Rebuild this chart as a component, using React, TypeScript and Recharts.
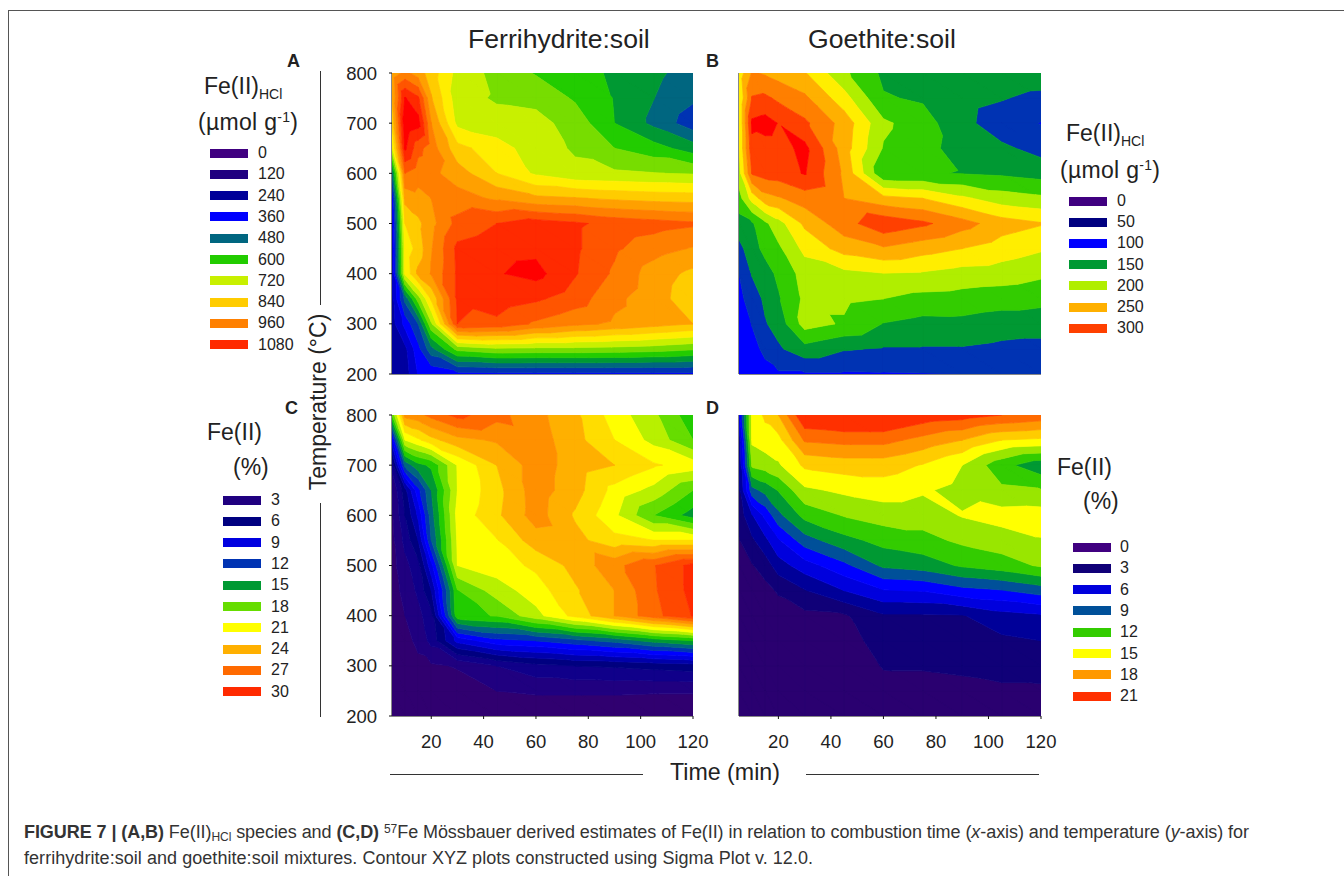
import React from 'react';
import { ScatterChart, Scatter, XAxis, YAxis } from 'recharts';

const times = [5, 10, 15, 20, 30, 45, 60, 75, 90, 105, 120];
const temps = [800, 750, 700, 650, 600, 550, 500, 450, 400, 350, 300, 250, 200];
const timeTicks = [20, 40, 60, 80, 100, 120];
const tempTicks = [200, 300, 400, 500, 600, 700, 800];

const ferrihydriteHcl = [
  [920, 980, 930, 870, 760, 700, 655, 625, 590, 555, 510],
  [900, 1145, 1090, 905, 745, 712, 703, 652, 597, 541, 490],
  [850, 1190, 1165, 960, 765, 745, 740, 695, 600, 525, 445],
  [760, 1150, 1040, 990, 860, 805, 750, 712, 660, 625, 570],
  [500, 1020, 985, 975, 930, 840, 770, 735, 730, 722, 715],
  [360, 920, 940, 960, 985, 950, 915, 905, 890, 880, 875],
  [320, 840, 885, 940, 1040, 1080, 1110, 1090, 1060, 1045, 1030],
  [305, 800, 865, 955, 1095, 1120, 1125, 1090, 1030, 985, 955],
  [295, 790, 915, 965, 1090, 1135, 1160, 1085, 1010, 930, 885],
  [285, 500, 690, 850, 1090, 1115, 1090, 1050, 975, 925, 865],
  [275, 380, 480, 710, 1080, 1065, 1010, 975, 950, 925, 900],
  [270, 285, 400, 520, 680, 710, 705, 705, 700, 690, 670],
  [265, 270, 365, 370, 400, 405, 405, 405, 405, 405, 405],
];
const goethiteHcl = [
  [235, 278, 272, 265, 252, 205, 170, 165, 168, 170, 168],
  [225, 302, 305, 295, 280, 235, 177, 172, 160, 152, 142],
  [225, 330, 335, 324, 305, 265, 205, 185, 158, 135, 124],
  [225, 318, 315, 315, 332, 262, 198, 183, 165, 155, 141],
  [215, 302, 310, 312, 327, 270, 178, 177, 174, 171, 165],
  [190, 235, 265, 272, 287, 275, 258, 250, 230, 212, 205],
  [165, 172, 195, 215, 255, 290, 318, 305, 285, 262, 252],
  [142, 165, 182, 195, 232, 260, 272, 260, 250, 238, 228],
  [125, 152, 165, 180, 210, 218, 224, 222, 215, 213, 205],
  [118, 137, 155, 172, 205, 205, 200, 192, 190, 186, 182],
  [112, 126, 148, 160, 210, 197, 174, 167, 168, 162, 162],
  [108, 118, 130, 146, 166, 152, 148, 148, 148, 144, 141],
  [100, 105, 118, 122, 122, 122, 123, 124, 125, 127, 130],
];
const ferrihydritePct = [
  [18, 26, 26.5, 27.5, 29, 27.5, 26, 24.3, 21.8, 19.8, 17],
  [10, 21, 22.2, 23.5, 25, 25.7, 26.3, 24.5, 22.5, 20.5, 18],
  [5, 14, 16, 16.8, 21.1, 24, 26.3, 24.8, 24, 22.7, 21.8],
  [3, 7, 11.5, 15, 21, 23.5, 26.3, 24.6, 22, 20.5, 18],
  [2.8, 6, 9.3, 14.3, 21.5, 23.7, 26.2, 23.8, 21.3, 18, 15.8],
  [2.6, 5, 7.5, 13.5, 21.2, 22.4, 24.8, 24.5, 23, 22.5, 22.5],
  [2.5, 4, 5.5, 10, 21, 21.8, 22.8, 24.5, 26.5, 28.4, 30.5],
  [2.3, 3.5, 4.8, 7.5, 17.9, 20.2, 21.8, 23.8, 25.5, 28.3, 30.5],
  [2, 3, 4, 5.5, 17.5, 18.1, 20.5, 23, 25.5, 28, 30.1],
  [1.8, 2.6, 3.3, 5, 9.5, 11.5, 12, 13, 14, 15.5, 16.5],
  [1.5, 2.5, 2.7, 2.8, 3.1, 4.5, 5.5, 6, 6.2, 6.5, 6.8],
  [1, 1.5, 1.8, 2, 2.4, 3, 3.3, 3.3, 3.3, 3.2, 3.2],
  [0.5, 1, 1, 1, 1.2, 1.5, 1.5, 1.5, 1.5, 1.5, 1.5],
];
const goethitePct = [
  [7, 15.5, 16.8, 18, 22.5, 23, 23, 22, 21.7, 21, 20.5],
  [5, 15.3, 15.8, 16, 19.7, 20, 20, 19, 18, 16.5, 16.2],
  [4.6, 13.8, 14.2, 14.8, 16.8, 17.2, 17.2, 16.4, 15, 12.5, 11],
  [4.2, 10, 11, 12.1, 14.7, 15.3, 15.7, 15.2, 14.5, 13.8, 13.6],
  [3.6, 5.9, 7.9, 10.1, 12.5, 13.6, 14.2, 14.2, 15.1, 15.6, 15.7],
  [2.9, 4.2, 5.6, 7.3, 9.8, 11.5, 12.5, 13, 13.8, 14.3, 14.9],
  [2.4, 2.9, 3.7, 5.3, 6.8, 8.6, 10.8, 11.2, 12.2, 12.8, 13.7],
  [2, 2.2, 2.5, 3.2, 4.4, 6, 7.4, 7.6, 8.5, 8.9, 9.7],
  [1.7, 1.7, 1.9, 2.2, 2.6, 2.8, 4.3, 4.3, 4.4, 5.4, 5.8],
  [1.4, 1.3, 1.5, 1.8, 2.2, 2.4, 3.6, 3.7, 3.8, 4.2, 4.5],
  [1, 1, 1.2, 1.4, 1.8, 2, 3.1, 3.1, 3.2, 3.4, 3.5],
  [0.7, 0.8, 0.9, 1, 1.2, 1.5, 2.5, 2.6, 2.7, 2.8, 2.8],
  [0.4, 0.5, 0.6, 0.7, 0.8, 1, 2, 2, 2, 2, 2],
];

const coloursA = ['#400080', '#2c0080', '#200080', '#100090', '#00009f', '#0000cc', '#0000ff', '#0033b3', '#006680', '#009933', '#22cc00', '#77dd00', '#c8f000', '#ffee00', '#ffcc00', '#ffa000', '#ff7f00', '#ff5500', '#ff2a00', '#ff0000'];
const coloursB = ['#400080', '#200080', '#000080', '#000099', '#0000ff', '#0033b3', '#009933', '#33cc00', '#b0ee00', '#ffee00', '#ffb000', '#ff7f00', '#ff4000', '#ff0000'];
const coloursC = ['#300070', '#300070', '#200080', '#10008a', '#000080', '#0000aa', '#0000e0', '#0000ff', '#0033b3', '#006680', '#009933', '#22cc00', '#66dd00', '#b8f000', '#ffff00', '#ffdd00', '#ffb000', '#ff9000', '#ff6a00', '#ff4800', '#ff2a00'];
const coloursD = ['#2a0070', '#2a0070', '#100078', '#000099', '#0000dd', '#0000ff', '#005099', '#009933', '#33cc00', '#99e600', '#ffff00', '#ffcc00', '#ff9900', '#ff6a00', '#ff3000'];

const legendA = [['0', '#400080'], ['120', '#200080'], ['240', '#000099'], ['360', '#0000ff'], ['480', '#006680'], ['600', '#22cc00'], ['720', '#c8f000'], ['840', '#ffcc00'], ['960', '#ff8000'], ['1080', '#ff2a00']];
const legendB = [['0', '#400080'], ['50', '#000080'], ['100', '#0000ff'], ['150', '#009933'], ['200', '#b0ee00'], ['250', '#ffb000'], ['300', '#ff4000']];
const legendC = [['3', '#200080'], ['6', '#000080'], ['9', '#0000e0'], ['12', '#0033b3'], ['15', '#009933'], ['18', '#66dd00'], ['21', '#ffff00'], ['24', '#ffb000'], ['27', '#ff6a00'], ['30', '#ff2a00']];
const legendD = [['0', '#400080'], ['3', '#100078'], ['6', '#0000dd'], ['9', '#005099'], ['12', '#33cc00'], ['15', '#ffff00'], ['18', '#ff9900'], ['21', '#ff3000']];

const FONT = '"Liberation Sans", Arial, sans-serif';

type V = { t: number; T: number; z: number };

function clip(poly: V[], level: number, keepAbove: boolean): V[] {
  const out: V[] = [];
  const inside = (v: V) => (keepAbove ? v.z >= level : v.z <= level);
  for (let i = 0; i < poly.length; i++) {
    const a = poly[i];
    const b = poly[(i + 1) % poly.length];
    if (inside(a)) out.push(a);
    if (inside(a) !== inside(b)) {
      const f = (level - a.z) / (b.z - a.z);
      out.push({ t: a.t + f * (b.t - a.t), T: a.T + f * (b.T - a.T), z: level });
    }
  }
  return out;
}

function bandPolygons(grid: number[][], lo: number, hi: number): V[][] {
  const res: V[][] = [];
  const node = (r: number, c: number): V => ({ t: times[c], T: temps[r], z: grid[r][c] });
  for (let r = 0; r < temps.length - 1; r++) {
    for (let c = 0; c < times.length - 1; c++) {
      const a = node(r, c), b = node(r, c + 1), d = node(r + 1, c), e = node(r + 1, c + 1);
      for (const tri of [[a, b, e], [a, e, d]]) {
        const p = clip(clip(tri, lo, true), hi, false);
        if (p.length >= 3) res.push(p);
      }
    }
  }
  return res;
}

function bandPath(sizes: number[], colour: string) {
  return (props: any) => {
    const pts = props.points as { x: number; y: number }[];
    let i = 0;
    let d = '';
    for (const n of sizes) {
      for (let k = 0; k < n; k++, i++) d += (k === 0 ? 'M' : 'L') + pts[i].x.toFixed(2) + ' ' + pts[i].y.toFixed(2);
      d += 'Z';
    }
    return <path d={d} fill={colour} stroke={colour} strokeWidth={0.7} strokeLinejoin="round" />;
  };
}

const noDot = () => <g />;

function Panel({ grid, step, colours, left, top, w, h, showY, showX }: { grid: number[][]; step: number; colours: string[]; left: number; top: number; w: number; h: number; showY: boolean; showX: boolean }) {
  const series = colours.map((colour, i) => {
    const first = colours.indexOf(colour);
    if (first !== i) return { colour, sizes: [] as number[], data: [] as { t: number; T: number }[] };
    const lo = i === 0 ? -1e9 : i * step;
    const last = colours.lastIndexOf(colour);
    const hi = last === colours.length - 1 ? 1e9 : (last + 1) * step;
    const polys = bandPolygons(grid, lo, hi);
    return { colour, sizes: polys.map((p) => p.length), data: polys.flat().map((v) => ({ t: v.t, T: v.T })) };
  });
  const tickStyle = { fontFamily: FONT, fontSize: 18.5, fill: '#222' };
  return (
    <div style={{ position: 'absolute', left: left - 60, top: top - 12 }}>
      <ScatterChart width={w + 90} height={h + 52} margin={{ top: 12, right: 30, bottom: 0, left: 0 }}>
        <XAxis type="number" dataKey="t" domain={[5, 120]} ticks={timeTicks} interval={0} height={40} tickSize={3} tickMargin={16} tick={showX ? tickStyle : false} stroke="#111" allowDataOverflow />
        <YAxis type="number" dataKey="T" domain={[200, 800]} ticks={tempTicks} interval={0} width={60} tickSize={3} tickMargin={12} tick={showY ? tickStyle : false} stroke="#111" allowDataOverflow />
        <XAxis xAxisId="top" orientation="top" type="number" domain={[5, 120]} height={0} tick={false} tickLine={false} stroke="#111" />
        <YAxis yAxisId="right" orientation="right" type="number" domain={[200, 800]} width={0} tick={false} tickLine={false} stroke="#111" />
        {series.filter((s) => s.data.length > 0).map((s) => (
          <Scatter key={s.colour + s.data.length} data={s.data} fill={s.colour} isAnimationActive={false} shape={noDot} line={bandPath(s.sizes, s.colour)} />
        ))}
      </ScatterChart>
    </div>
  );
}

function Txt({ x, y, size, bold, children, style }: any) {
  return (
    <div style={{ position: 'absolute', left: x, top: y, fontFamily: FONT, fontSize: size, fontWeight: bold ? 700 : 400, color: '#222', lineHeight: 1, whiteSpace: 'nowrap', ...style }}>
      {children}
    </div>
  );
}

function Legend({ items, x, y, labelX, gap }: { items: string[][]; x: number; y: number; labelX: number; gap: number }) {
  return (
    <>
      {items.map(([label, colour], i) => (
        <React.Fragment key={label}>
          <div style={{ position: 'absolute', left: x, top: y + i * gap - 4.5, width: 38, height: 9, background: colour }} />
          <Txt x={labelX} y={y + i * gap - 8} size={16}>{label}</Txt>
        </React.Fragment>
      ))}
    </>
  );
}

function Hcl({ x, y }: { x: number; y: number }) {
  return (
    <Txt x={x} y={y} size={23}>
      Fe(II)<sub style={{ fontSize: 14, verticalAlign: -5, lineHeight: 0 }}>HCl</sub>
    </Txt>
  );
}
function Unit({ x, y }: { x: number; y: number }) {
  return (
    <Txt x={x} y={y} size={23} style={{ letterSpacing: 0.3 }}>
      (µmol g<sup style={{ fontSize: 14, verticalAlign: 8, lineHeight: 0 }}>-1</sup>)
    </Txt>
  );
}
const Rule = ({ x, y, w, h, c = '#333' }: any) => <div style={{ position: 'absolute', left: x, top: y, width: w, height: h, background: c }} />;

export default function App() {
  return (
    <div style={{ position: 'absolute', left: 0, top: 0, width: 1344, height: 876, background: '#fff', overflow: 'hidden' }}>
      <Rule x={8} y={10} w={1336} h={1} c="#555" />
      <Rule x={8} y={10} w={1} h={866} c="#555" />
      <Panel grid={ferrihydriteHcl} step={60} colours={coloursA} left={392} top={73} w={301} h={301} showY showX={false} />
      <Panel grid={goethiteHcl} step={25} colours={coloursB} left={739} top={73} w={302} h={301} showY={false} showX={false} />
      <Panel grid={ferrihydritePct} step={1.5} colours={coloursC} left={392} top={415} w={301} h={301} showY showX />
      <Panel grid={goethitePct} step={1.5} colours={coloursD} left={739} top={415} w={302} h={301} showY={false} showX />

      <Txt x={468} y={26} size={26.6}>Ferrihydrite:soil</Txt>
      <Txt x={808} y={26} size={26.6}>Goethite:soil</Txt>
      <Txt x={287} y={52} size={18} bold>A</Txt>
      <Txt x={706} y={52} size={18} bold>B</Txt>
      <Txt x={285} y={399} size={18} bold>C</Txt>
      <Txt x={706} y={399} size={18} bold>D</Txt>

      <Hcl x={204} y={75} />
      <Unit x={198} y={111} />
      <Legend items={legendA} x={210} y={153} labelX={258} gap={21.3} />
      <Hcl x={1066} y={122} />
      <Unit x={1060} y={159} />
      <Legend items={legendB} x={1069} y={201} labelX={1117} gap={21.2} />
      <Txt x={207} y={421} size={23}>Fe(II)</Txt>
      <Txt x={233} y={456} size={23}>(%)</Txt>
      <Legend items={legendC} x={223} y={500} labelX={271} gap={21.3} />
      <Txt x={1057} y={456} size={23}>Fe(II)</Txt>
      <Txt x={1083} y={490} size={23}>(%)</Txt>
      <Legend items={legendD} x={1073} y={547} labelX={1120} gap={21.3} />

      <Rule x={320} y={71} w={1} h={234} />
      <Rule x={320} y={503} w={1} h={214} />
      <Txt x={318} y={402} size={23} style={{ transform: 'translate(-50%,-50%) rotate(-90deg)' }}>Temperature (°C)</Txt>
      <Rule x={390} y={774} w={253} h={1} />
      <Rule x={806} y={774} w={233} h={1} />
      <Txt x={670} y={761} size={23.2}>Time (min)</Txt>

      <Txt x={24} y={823} size={18} style={{ color: '#333', letterSpacing: -0.07 }}>
        <b>FIGURE 7 | (A,B)</b> Fe(II)<sub style={{ fontSize: 12, verticalAlign: -3, lineHeight: 0 }}>HCl</sub> species and <b>(C,D)</b> <sup style={{ fontSize: 12, verticalAlign: 5, lineHeight: 0 }}>57</sup>Fe Mössbauer derived estimates of Fe(II) in relation to combustion time (<i>x</i>-axis) and temperature (<i>y</i>-axis) for
      </Txt>
      <Txt x={24} y={849} size={18} style={{ color: '#333', letterSpacing: 0.05 }}>
        ferrihydrite:soil and goethite:soil mixtures. Contour XYZ plots constructed using Sigma Plot v. 12.0.
      </Txt>
    </div>
  );
}
